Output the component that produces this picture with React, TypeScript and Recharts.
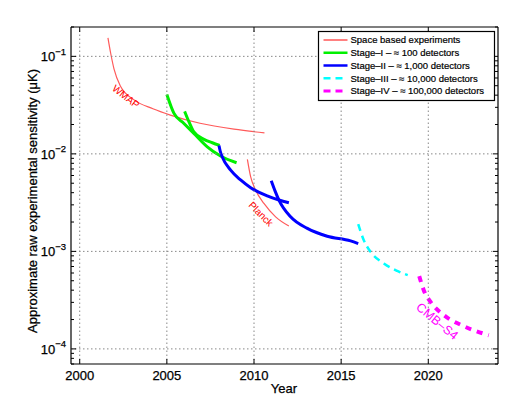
import React from "react";
import { LineChart, Line, XAxis, YAxis } from "recharts";

const FONT = "'Liberation Sans', Arial, Helvetica, sans-serif";

// axis ticks
const YEAR_TICKS = [2000, 2005, 2010, 2015, 2020];
const Y_MAJOR = [1e-4, 1e-3, 1e-2, 1e-1];
const Y_ALL = [
  7e-5, 8e-5, 9e-5,
  1e-4, 2e-4, 3e-4, 4e-4, 5e-4, 6e-4, 7e-4, 8e-4, 9e-4,
  1e-3, 2e-3, 3e-3, 4e-3, 5e-3, 6e-3, 7e-3, 8e-3, 9e-3,
  1e-2, 2e-2, 3e-2, 4e-2, 5e-2, 6e-2, 7e-2, 8e-2, 9e-2,
  1e-1, 2e-1,
];

// space based experiments
const wmap = [
  { year: 2001.62, v: 0.155 },
  { year: 2001.78, v: 0.107 },
  { year: 2001.97, v: 0.074 },
  { year: 2002.35, v: 0.049 },
  { year: 2003.1, v: 0.036 },
  { year: 2004.2, v: 0.029 },
  { year: 2005.2, v: 0.025 },
  { year: 2006.9, v: 0.0206 },
  { year: 2008.85, v: 0.0179 },
  { year: 2010.6, v: 0.0164 },
];
const planck = [
  { year: 2009.62, v: 0.0088 },
  { year: 2009.81, v: 0.0058 },
  { year: 2010.09, v: 0.00425 },
  { year: 2010.57, v: 0.0031 },
  { year: 2011.24, v: 0.00226 },
  { year: 2012.0, v: 0.00182 },
];

// stage I
const stage1a = [
  { year: 2005.0, v: 0.0407 },
  { year: 2005.41, v: 0.026 },
  { year: 2005.98, v: 0.0205 },
  { year: 2006.55, v: 0.0162 },
  { year: 2007.32, v: 0.0118 },
  { year: 2008.08, v: 0.0095 },
  { year: 2009.0, v: 0.0081 },
];
const stage1b = [
  { year: 2006.02, v: 0.0273 },
  { year: 2006.27, v: 0.0213 },
  { year: 2006.55, v: 0.0168 },
  { year: 2007.13, v: 0.0141 },
  { year: 2007.61, v: 0.013 },
  { year: 2008.03, v: 0.0122 },
];

// stage II
const stage2a = [
  { year: 2007.99, v: 0.0122 },
  { year: 2008.06, v: 0.0107 },
  { year: 2008.18, v: 0.0093 },
  { year: 2008.66, v: 0.0068 },
  { year: 2009.23, v: 0.0054 },
  { year: 2009.81, v: 0.0045 },
  { year: 2010.76, v: 0.00371 },
  { year: 2011.43, v: 0.00336 },
  { year: 2012.0, v: 0.00315 },
];
const stage2b = [
  { year: 2010.99, v: 0.0053 },
  { year: 2011.2, v: 0.0042 },
  { year: 2011.43, v: 0.00336 },
  { year: 2012.1, v: 0.00226 },
  { year: 2013.06, v: 0.00172 },
  { year: 2014.2, v: 0.00143 },
  { year: 2015.54, v: 0.00128 },
  { year: 2015.98, v: 0.0012 },
];

// stage III and IV
const stage3 = [
  { year: 2015.98, v: 0.0019 },
  { year: 2016.3, v: 0.0013 },
  { year: 2016.69, v: 0.00099 },
  { year: 2017.45, v: 0.00075 },
  { year: 2018.22, v: 0.00063 },
  { year: 2018.82, v: 0.00057 },
];
const stage4 = [
  { year: 2019.48, v: 0.000557 },
  { year: 2019.74, v: 0.0004 },
  { year: 2020.13, v: 0.000303 },
  { year: 2020.89, v: 0.000222 },
  { year: 2022.04, v: 0.000171 },
  { year: 2023.47, v: 0.000138 },
];

const RED = "#ff5a5a";
const GREEN = "#00f000";
const BLUE = "#0000ff";
const CYAN = "#00ffff";
const MAGENTA = "#ff00ff";
const GRID = "#888888";

const legendRows = [
  { label: "Space based experiments", color: "#ff8080", width: 2, dash: undefined },
  { label: "Stage\u2013I \u2013 \u2248 100 detectors", color: GREEN, width: 2.5, dash: undefined },
  { label: "Stage\u2013II \u2013 \u2248 1,000 detectors", color: BLUE, width: 2.5, dash: undefined },
  { label: "Stage\u2013III \u2013 \u2248 10,000 detectors", color: CYAN, width: 2.5, dash: "7 5" },
  { label: "Stage\u2013IV \u2013 \u2248 100,000 detectors", color: MAGENTA, width: 3, dash: "7 5" },
];

const TXT = { fill: "#000", stroke: "#000", strokeWidth: 0.25 };

// left axis: labels, inward ticks and the dotted horizontal grid
function LeftTick(props: any) {
  const { x, y, payload } = props;
  const major = Y_MAJOR.includes(payload.value);
  const exp = Math.round(Math.log10(payload.value));
  return (
    <g>
      {major && (
        <line x1={x} x2={424 + x} y1={y} y2={y} stroke={GRID} strokeWidth={1} strokeDasharray="1.5 2.5" />
      )}
      <line x1={x} x2={x + (major ? 5 : 3)} y1={y} y2={y} stroke="#000" strokeWidth={1} />
      {major && (
        <text x={x - 5} y={y + 4.7} textAnchor="end" fontSize={13} fontFamily={FONT} {...TXT}>
          10
          <tspan dy={-6.5} fontSize={9.5}>
            {"\u2212" + Math.abs(exp)}
          </tspan>
        </text>
      )}
    </g>
  );
}

function RightTick(props: any) {
  const { x, y, payload } = props;
  const major = Y_MAJOR.includes(payload.value);
  return <line x1={x} x2={x - (major ? 5 : 3)} y1={y} y2={y} stroke="#000" strokeWidth={1} />;
}

// bottom axis: labels, inward ticks and the dotted vertical grid
function BottomTick(props: any) {
  const { x, y, payload } = props;
  return (
    <g>
      <line x1={x} x2={x} y1={y} y2={y - 337} stroke={GRID} strokeWidth={1} strokeDasharray="1.5 2.5" />
      <line x1={x} x2={x} y1={y} y2={y - 5} stroke="#000" strokeWidth={1} />
      <text x={x} y={y + 16} textAnchor="middle" fontSize={13} fontFamily={FONT} {...TXT}>
        {payload.value}
      </text>
    </g>
  );
}

function TopTick(props: any) {
  const { x, y } = props;
  return <line x1={x} x2={x} y1={y} y2={y + 5} stroke="#000" strokeWidth={1} />;
}

export default function App() {
  return (
    <div style={{ position: "absolute", left: 0, top: 0, width: 520, height: 402, background: "#fff" }}>
      <LineChart width={520} height={402} margin={{ top: 27, right: 22, left: 0, bottom: 0 }}>
        <XAxis
          xAxisId="b"
          dataKey="year"
          type="number"
          domain={[1999.5, 2024]}
          allowDataOverflow
          ticks={YEAR_TICKS}
          interval={0}
          height={38}
          tickSize={0}
          tickMargin={0}
          tickLine={false}
          tick={<BottomTick />}
          axisLine={{ stroke: "#000", strokeWidth: 1.2 }}
        />
        <XAxis
          xAxisId="t"
          dataKey="year"
          type="number"
          orientation="top"
          mirror
          domain={[1999.5, 2024]}
          allowDataOverflow
          ticks={YEAR_TICKS}
          interval={0}
          tickSize={0}
          tickMargin={0}
          tickLine={false}
          tick={<TopTick />}
          axisLine={{ stroke: "#000", strokeWidth: 1.2 }}
        />
        <YAxis
          yAxisId="l"
          scale="log"
          type="number"
          domain={[7e-5, 0.2]}
          allowDataOverflow
          ticks={Y_ALL}
          interval={0}
          width={71}
          tickSize={0}
          tickMargin={0}
          tickLine={false}
          tick={<LeftTick />}
          axisLine={{ stroke: "#000", strokeWidth: 1.2 }}
        />
        <YAxis
          yAxisId="r"
          orientation="right"
          mirror
          scale="log"
          type="number"
          domain={[7e-5, 0.2]}
          allowDataOverflow
          ticks={Y_ALL}
          interval={0}
          tickSize={0}
          tickMargin={0}
          tickLine={false}
          tick={<RightTick />}
          axisLine={{ stroke: "#000", strokeWidth: 1.2 }}
        />
        <Line xAxisId="b" yAxisId="l" data={wmap} dataKey="v" type="monotone" stroke={RED} strokeWidth={1.2} dot={false} activeDot={false} isAnimationActive={false} />
        <Line xAxisId="b" yAxisId="l" data={planck} dataKey="v" type="monotone" stroke={RED} strokeWidth={1.2} dot={false} activeDot={false} isAnimationActive={false} />
        <Line xAxisId="b" yAxisId="l" data={stage1a} dataKey="v" type="monotone" stroke={GREEN} strokeWidth={3} dot={false} activeDot={false} isAnimationActive={false} />
        <Line xAxisId="b" yAxisId="l" data={stage1b} dataKey="v" type="monotone" stroke={GREEN} strokeWidth={3} dot={false} activeDot={false} isAnimationActive={false} />
        <Line xAxisId="b" yAxisId="l" data={stage2a} dataKey="v" type="monotone" stroke={BLUE} strokeWidth={3} dot={false} activeDot={false} isAnimationActive={false} />
        <Line xAxisId="b" yAxisId="l" data={stage2b} dataKey="v" type="monotone" stroke={BLUE} strokeWidth={3} dot={false} activeDot={false} isAnimationActive={false} />
        <Line xAxisId="b" yAxisId="l" data={stage3} dataKey="v" type="monotone" stroke={CYAN} strokeWidth={2.5} strokeDasharray="7 5" dot={false} activeDot={false} isAnimationActive={false} />
        <Line xAxisId="b" yAxisId="l" data={stage4} dataKey="v" type="monotone" stroke={MAGENTA} strokeWidth={4} strokeDasharray="6 6" dot={false} activeDot={false} isAnimationActive={false} />
      </LineChart>

      <svg
        width={520}
        height={402}
        style={{ position: "absolute", left: 0, top: 0, pointerEvents: "none" }}
        fontFamily={FONT}
      >
        <text x={284} y={393} textAnchor="middle" fontSize={13} {...TXT}>
          Year
        </text>
        <text
          x={37}
          y={201}
          textAnchor="middle"
          fontSize={13}
          transform="rotate(-90 37 201)"
          {...TXT}
        >
          Approximate raw experimental sensitivity ({"\u03bc"}K)
        </text>

        <text x={125.7} y={100} textAnchor="middle" fontSize={10} fill="#ff0000" transform="rotate(38 125.7 96.7)">
          WMAP
        </text>
        <text x={261} y={217.5} textAnchor="middle" fontSize={10} fill="#ff0000" transform="rotate(45 261 214)">
          Planck
        </text>
        <text x={437.5} y={325.5} textAnchor="middle" fontSize={12.5} fill={MAGENTA} transform="rotate(39.6 437.5 321)">
          CMB{"\u2013"}S4
        </text>

        <rect x={318.5} y={31.5} width={176} height={69} fill="#fff" stroke="#000" strokeWidth={1.2} />
        {legendRows.map((r, i) => {
          const cy = 40 + i * 12.75;
          return (
            <g key={r.label}>
              <line x1={323.5} x2={347.5} y1={cy} y2={cy} stroke={r.color} strokeWidth={r.width} strokeDasharray={r.dash} />
              <text x={350.5} y={cy + 3.4} fontSize={9.5} fill="#000" stroke="#000" strokeWidth={0.2}>
                {r.label}
              </text>
            </g>
          );
        })}
      </svg>
    </div>
  );
}
